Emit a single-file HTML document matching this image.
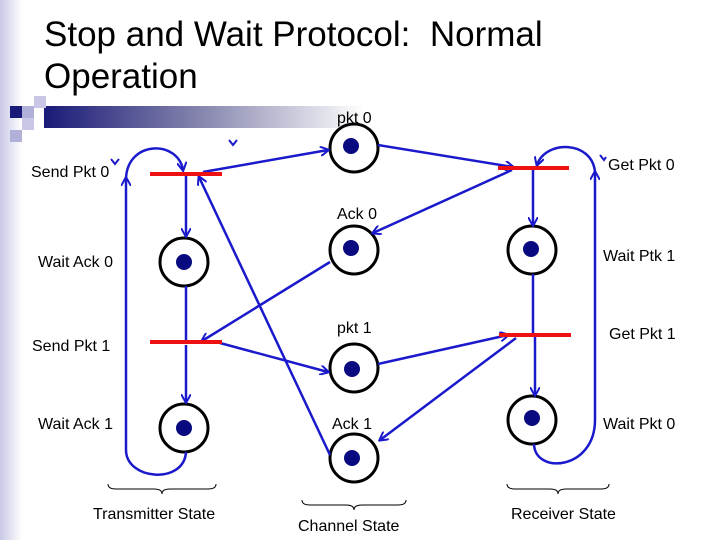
<!DOCTYPE html>
<html><head><style>
body{margin:0;width:720px;height:540px;overflow:hidden;background:#fff;font-family:"Liberation Sans",sans-serif;}
</style></head><body>
<svg width="720" height="540" viewBox="0 0 720 540" xmlns="http://www.w3.org/2000/svg" font-family="Liberation Sans, sans-serif">
<defs>
<linearGradient id="ls" x1="0" x2="1"><stop offset="0" stop-color="#c8c8e6"/><stop offset="1" stop-color="#fff"/></linearGradient>
<linearGradient id="hb" x1="0" x2="1"><stop offset="0" stop-color="#1a1a78"/><stop offset="0.5" stop-color="#8888b0"/><stop offset="1" stop-color="#fff"/></linearGradient>
<marker id="a" markerWidth="10" markerHeight="10" refX="8" refY="5" orient="auto" markerUnits="userSpaceOnUse"><path d="M0,0 L9,5 L0,10" fill="none" stroke="#1a1acc" stroke-width="2"/></marker>
</defs>
<rect x="0" y="0" width="22" height="540" fill="url(#ls)"/>
<rect x="44" y="106" width="320" height="22" fill="url(#hb)"/>
<rect x="10" y="106" width="12" height="12" fill="#1a1a78"/>
<rect x="22" y="106" width="12" height="12" fill="#b0b0d8"/>
<rect x="34" y="96" width="12" height="12" fill="#c8c8e6"/>
<rect x="22" y="118" width="12" height="12" fill="#c8c8e6"/>
<rect x="10" y="130" width="12" height="12" fill="#b0b0d8"/>
<text x="44" y="46" font-size="35" fill="#000" xml:space="preserve">Stop and Wait Protocol:  Normal</text>
<text x="44" y="88" font-size="35" fill="#000">Operation</text>
<g font-size="16" fill="#000">
<text x="337" y="123">pkt 0</text>
<text x="31" y="177">Send Pkt 0</text>
<text x="608" y="170">Get Pkt 0</text>
<text x="337" y="219">Ack 0</text>
<text x="38" y="267">Wait Ack 0</text>
<text x="603" y="261">Wait Ptk 1</text>
<text x="32" y="351">Send Pkt 1</text>
<text x="337" y="333">pkt 1</text>
<text x="609" y="339">Get Pkt 1</text>
<text x="38" y="429">Wait Ack 1</text>
<text x="332" y="429">Ack 1</text>
<text x="603" y="429">Wait Pkt 0</text>
<text x="93" y="519">Transmitter State</text>
<text x="298" y="531">Channel State</text>
<text x="511" y="519">Receiver State</text>
</g>
<g fill="none" stroke="#000" stroke-width="1">
<path d="M108,484 q0,5 8,5 h38 q8,0 8,5 q0,-5 8,-5 h38 q8,0 8,-5"/>
<path d="M302,500 q0,5 8,5 h36 q8,0 8,5 q0,-5 8,-5 h36 q8,0 8,-5"/>
<path d="M507,484 q0,5 8,5 h35 q8,0 8,5 q0,-5 8,-5 h35 q8,0 8,-5"/>
</g>
<g fill="none" stroke="#000" stroke-width="3">
<circle cx="184" cy="262" r="24"/><circle cx="184" cy="428" r="24"/>
<circle cx="354" cy="148" r="24"/><circle cx="354" cy="250" r="24"/>
<circle cx="354" cy="368" r="24"/><circle cx="354" cy="458" r="24"/>
<circle cx="532" cy="250" r="24"/><circle cx="532" cy="420" r="24"/>
</g>
<g fill="#0a0a80">
<circle cx="184" cy="262" r="8"/><circle cx="184" cy="428" r="8"/>
<circle cx="351" cy="146" r="8"/><circle cx="351" cy="248" r="8"/>
<circle cx="352" cy="369" r="8"/><circle cx="352" cy="458" r="8"/>
<circle cx="531" cy="249" r="8"/><circle cx="532" cy="418" r="8"/>
</g>
<g fill="none" stroke="#1a1acc" stroke-width="2.5">
<path d="M126,450 V178" marker-end="url(#a)"/>
<path d="M126,178 C128,140 178,140 183,170" marker-end="url(#a)"/>
<path d="M126,450 C126,480 184,485 186,452"/>
<path d="M186,176 V236" marker-end="url(#a)"/>
<path d="M186,345 V402" marker-end="url(#a)"/>
<path d="M186,286 V340"/>
<path d="M203,172 L328,150" marker-end="url(#a)"/>
<path d="M378,145 L513,167" marker-end="url(#a)"/>
<path d="M512,170 L373,233" marker-end="url(#a)"/>
<path d="M330,262 L202,341" marker-end="url(#a)"/>
<path d="M330,455 L199,177" marker-end="url(#a)"/>
<path d="M220,343 L328,372" marker-end="url(#a)"/>
<path d="M378,364 L508,335" marker-end="url(#a)"/>
<path d="M516,338 L380,440" marker-end="url(#a)"/>
<path d="M533,168 V225" marker-end="url(#a)"/>
<path d="M533,274 V333"/>
<path d="M535,337 V395" marker-end="url(#a)"/>
<path d="M595,420 V172" marker-end="url(#a)"/>
<path d="M595,172 C592,140 545,140 537,165" marker-end="url(#a)"/>
<path d="M595,420 C595,470 535,475 534,444"/>
</g>
<g fill="none" stroke="#1a1acc" stroke-width="2">
<path d="M111,159 l4,5 l4,-5"/><path d="M229,140 l4,5 l4,-5"/><path d="M600,155 l4,5 l2,-3"/>
</g>
<g stroke="#ee1111" stroke-width="4">
<line x1="150" y1="174" x2="222" y2="174"/>
<line x1="150" y1="342" x2="222" y2="342"/>
<line x1="498" y1="168" x2="569" y2="168"/>
<line x1="499" y1="335" x2="571" y2="335"/>
</g>
</svg>
</body></html>
